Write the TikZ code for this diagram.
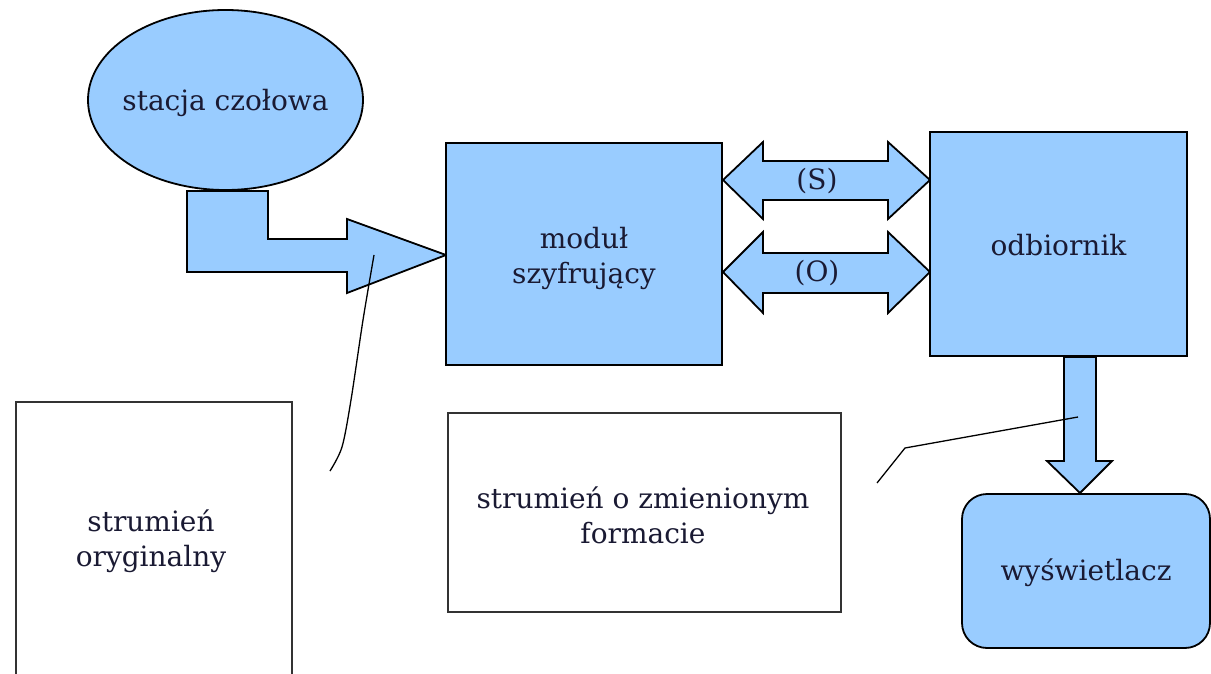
\documentclass[tikz,border=0pt]{standalone}
\usepackage{fontspec}
\setmainfont{DejaVu Serif}
\usetikzlibrary{shapes.geometric}
\definecolor{fillblue}{HTML}{99CCFF}
\definecolor{inkdark}{HTML}{1A1A33}
\tikzset{
  bluebox/.style={fill=fillblue, draw=black, line width=1.8pt},
  whitebox/.style={draw=black!80, line width=1.8pt},
  lbl/.style={font=\fontsize{28}{35}\selectfont, align=center, text=inkdark, inner sep=0},
  leader/.style={draw=black, line width=1.3pt},
}
\begin{document}
\begin{tikzpicture}[x=1pt,y=-1pt]
\useasboundingbox (0,0) rectangle (1211,674);
% head station
\node[bluebox, ellipse, minimum width=275, minimum height=180, inner sep=0] (st) at (225.5,100) {};
\node[lbl] (stt) at (225.5,103) {stacja czołowa};
% bent arrow
\draw[bluebox] (187,191)--(268,191)--(268,239)--(347,239)--(347,219)--(446,255)--(347,293)--(347,272)--(187,272)--cycle;
% double arrows
\draw[bluebox] (723,180)--(763,142)--(763,161)--(888,161)--(888,142)--(930,180)--(888,219)--(888,200)--(763,200)--(763,219)--cycle;
\draw[bluebox] (723,272)--(763,232)--(763,253)--(888,253)--(888,232)--(930,272)--(888,313)--(888,293)--(763,293)--(763,313)--cycle;
\node[lbl] (s) at (817,181) {(S)};
\node[lbl] (o) at (817,273) {(O)};
% down arrow
\draw[bluebox] (1064,357)--(1096,357)--(1096,461)--(1112,461)--(1080,493)--(1047,461)--(1064,461)--cycle;
% module
\node[bluebox, minimum width=276, minimum height=222, inner sep=0] (mod) at (584,254) {};
\node[lbl] (modt) at (584,258) {moduł\\szyfrujący};
% receiver
\node[bluebox, minimum width=257, minimum height=224, inner sep=0] (odb) at (1058.5,244) {};
\node[lbl] (odbt) at (1058.5,245) {odbiornik};
% display
\node[bluebox, rounded corners=25, minimum width=248, minimum height=154, inner sep=0] (wys) at (1086,571) {};
\node[lbl] (wyst) at (1086,573) {wyświetlacz};
% left white box (open at bottom)
\draw[whitebox] (16,690)--(16,402)--(292,402)--(292,690);
\node[lbl] (org) at (151,541) {strumień\\oryginalny};
% middle white box
\draw[whitebox] (448,413) rectangle (841,612);
\node[lbl] (zm) at (643,515) {strumień o zmienionym\\formacie};
% leader lines
\draw[leader] (1078,417)--(905,448)--(877,483);
\draw[leader] plot[smooth] coordinates {(374,255) (363,320) (351,400) (342,447) (330,471)};
\end{tikzpicture}
\end{document}
